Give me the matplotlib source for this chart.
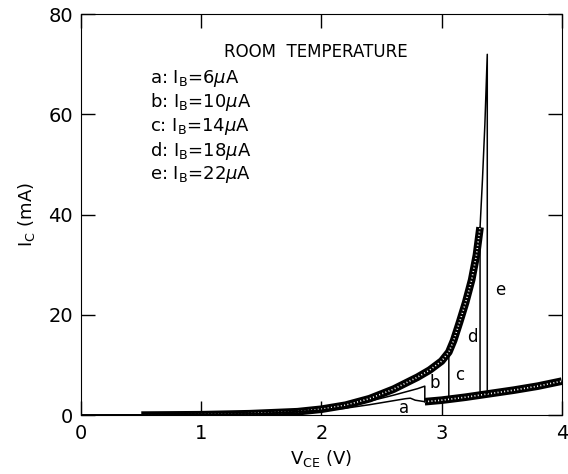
import numpy as np
import matplotlib.pyplot as plt

# shared rising branch (c, d, e follow it until they snap back)
v_env = [0.0, 0.5, 1.0, 1.4, 1.8, 2.0, 2.2, 2.4, 2.6, 2.8, 2.9, 3.0, 3.06, 3.1, 3.15, 3.2, 3.25, 3.29, 3.32]
i_env = [0.0, 0.02, 0.1, 0.3, 0.7, 1.2, 2.0, 3.3, 5.2, 7.6, 9.0, 10.8, 12.6, 14.9, 18.6, 22.5, 27.0, 32.0, 37.5]

# low branch after snapback
v_low = [2.86, 3.0, 3.2, 3.4, 3.6, 3.8, 4.0]
i_low = [2.7, 3.0, 3.6, 4.3, 5.0, 5.8, 6.8]

# curve a and b rise below the envelope
v_a = [0.0, 1.0, 1.5, 2.0, 2.2, 2.4, 2.6, 2.7, 2.74, 2.78, 2.86]
i_a = [0.0, 0.1, 0.3, 0.9, 1.4, 2.1, 2.9, 3.3, 3.4, 3.0, 2.7]
v_b = [0.0, 1.0, 1.5, 2.0, 2.2, 2.4, 2.6, 2.8, 2.86, 2.86]
i_b = [0.0, 0.1, 0.3, 1.0, 1.7, 2.8, 4.0, 5.3, 5.8, 2.7]

# breakdown points (V, peak I, I after drop)
v_c, pk_c, dn_c = 3.06, 12.6, 3.1
v_d, pk_d, dn_d = 3.32, 37.5, 4.1
v_e_top = [3.32, 3.34, 3.36, 3.38]
i_e_top = [37.5, 47.0, 58.0, 72.0]
dn_e = 4.4

labels = ['a', 'b', 'c', 'd', 'e']
ib = [6, 10, 14, 18, 22]
lab_pos = [(2.69, 1.4), (2.94, 6.4), (3.15, 8.0), (3.26, 15.6), (3.49, 25.0)]

fig = plt.figure(figsize=(5.68, 4.74), dpi=100)
ax = fig.add_axes([0.143, 0.124, 0.846, 0.846])


def hatched(x, y):
    ax.plot(x, y, color='black', lw=5.5, solid_capstyle='butt', zorder=3)
    ax.plot(x, y, color='white', lw=1.2, ls=(0, (0.6, 1.4)), zorder=4)


# thick hatched bands
env_mask = np.array(v_env) >= 0.4
hatched(np.array(v_env)[env_mask], np.array(i_env)[env_mask])
hatched(v_low, i_low)

# thin lines for each curve
lw = 1.1
ax.plot(v_a, i_a, color='black', lw=lw, zorder=5)
ax.plot(v_b, i_b, color='black', lw=lw, zorder=5)

k = v_env.index(v_c)
ax.plot(v_env[:k + 1] + [v_c], i_env[:k + 1] + [dn_c], color='black', lw=lw, zorder=2)
ax.plot(v_env + [v_d], i_env + [dn_d], color='black', lw=lw, zorder=2)
ax.plot(v_e_top + [v_e_top[-1]], i_e_top + [dn_e], color='black', lw=lw, zorder=5)

for lab, (x, y) in zip(labels, lab_pos):
    ax.text(x, y, lab, fontsize=12, ha='center', va='center', zorder=6)

ax.text(1.95, 72.4, 'ROOM  TEMPERATURE', fontsize=12, ha='center', va='center')
for n, (lab, cur) in enumerate(zip(labels, ib)):
    ax.text(0.57, 67.2 - 4.8 * n, lab + ': I$_\\mathregular{B}$=' + str(cur) + '$\\mu$A',
            fontsize=13, ha='left', va='center')

ax.set_xlim(0, 4)
ax.set_ylim(0, 80)
ax.set_xticks([0, 1, 2, 3, 4])
ax.set_yticks([0, 20, 40, 60, 80])
ax.tick_params(direction='in', top=True, right=True, length=10, width=1, labelsize=14, pad=6)
ax.set_xlabel('V$_\\mathregular{CE}$ (V)', fontsize=13, labelpad=4)
ax.set_ylabel('I$_\\mathregular{C}$ (mA)', fontsize=13, labelpad=8)

fig.savefig('out.png', dpi=100)
